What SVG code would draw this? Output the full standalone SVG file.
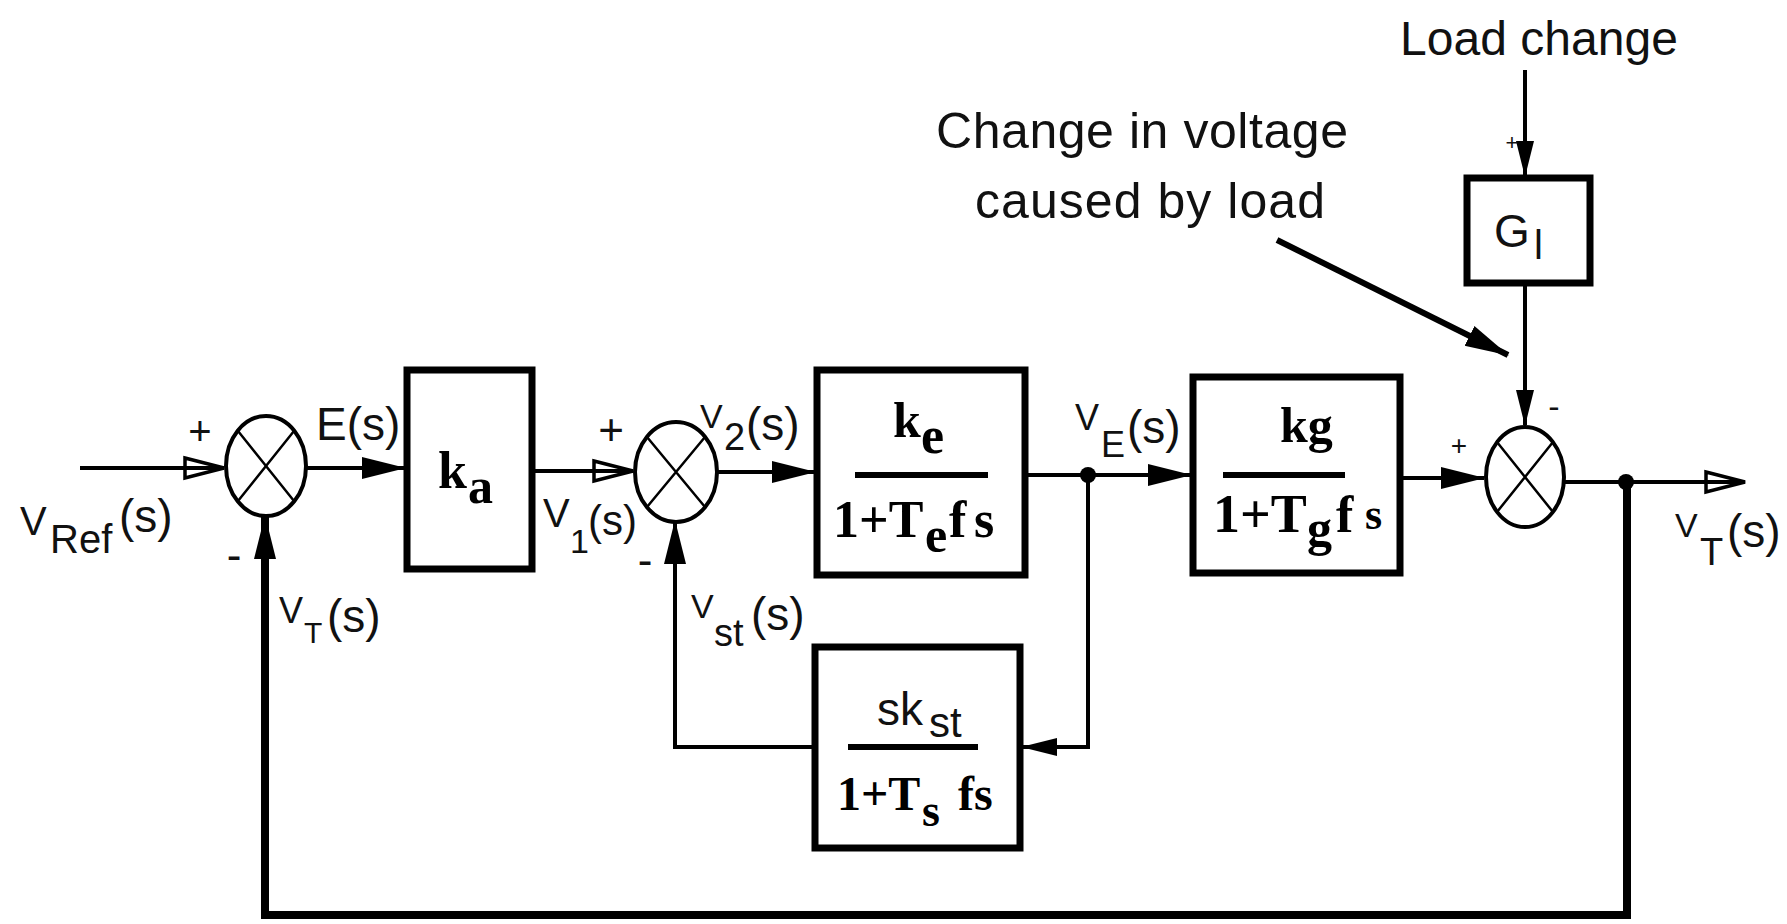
<svg xmlns="http://www.w3.org/2000/svg" width="1787" height="924" viewBox="0 0 1787 924">
<style>
.bg{fill:#fff}
.box{fill:#fff;stroke:#000;stroke-width:7}
.sum{fill:#fff;stroke:#000;stroke-width:4}
.cross{stroke:#000;stroke-width:2.5;fill:none}
.ln{stroke:#000;stroke-width:4;fill:none}
.thick{stroke:#000;stroke-width:8;fill:none}
.frac{stroke:#000;stroke-width:6;fill:none}
.lbl{font-family:"Liberation Sans",Arial,sans-serif;fill:#111}
.math{font-family:"Liberation Serif","Times New Roman",serif;font-weight:bold;fill:#000}
.sign{font-family:"Liberation Sans",Arial,sans-serif;fill:#111;text-anchor:middle}
</style>
<defs>
<marker id="fa" markerUnits="userSpaceOnUse" markerWidth="44" markerHeight="26" viewBox="0 0 44 26" refX="43" refY="13" orient="auto"><path d="M0 2 L44 13 L0 24 Z" fill="#000"/></marker>
<marker id="fs" markerUnits="userSpaceOnUse" markerWidth="36" markerHeight="22" viewBox="0 0 36 22" refX="35" refY="11" orient="auto"><path d="M0 2 L36 11 L0 20 Z" fill="#000"/></marker>
<marker id="oa" markerUnits="userSpaceOnUse" markerWidth="44" markerHeight="28" viewBox="0 0 44 28" refX="41" refY="14" orient="auto"><path d="M2 4 L41 14 L2 24 Z" fill="none" stroke="#000" stroke-width="3.5"/></marker>
</defs>
<rect class="bg" x="0" y="0" width="1787" height="924"/>

<g id="connectors">
  <path class="ln" d="M80 468 H224" marker-end="url(#oa)"/>
  <path class="ln" d="M306 468 H405" marker-end="url(#fa)"/>
  <path class="ln" d="M532 471 H633" marker-end="url(#oa)"/>
  <path class="ln" d="M717 472 H815" marker-end="url(#fa)"/>
  <path class="ln" d="M1025 475 H1191" marker-end="url(#fa)"/>
  <path class="ln" d="M1400 478 H1484" marker-end="url(#fa)"/>
  <path class="ln" d="M1564 482 H1745" marker-end="url(#oa)"/>
  <path class="ln" d="M1525 70 V176" marker-end="url(#fs)"/>
  <path class="ln" d="M1525 283 V425" marker-end="url(#fs)"/>
  <path class="thick" d="M1627 482 V915 H265 V516" marker-end="url(#fa)"/>
  <path class="ln" d="M1088 475 V747 H1022" marker-end="url(#fs)"/>
  <path class="ln" d="M815 747 H675 V521" marker-end="url(#fa)"/>
  <path class="thick" d="M1277 240 L1508 355" style="stroke-width:6" marker-end="url(#fa)"/>
  <circle cx="1088" cy="475" r="8" fill="#000"/>
  <circle cx="1626" cy="482" r="8" fill="#000"/>
</g>

<g id="sum1">
  <ellipse class="sum" cx="266" cy="466" rx="40" ry="50"/>
  <path class="cross" d="M238 431 L294 501 M294 431 L238 501"/>
  <text class="sign" x="200" y="445" font-size="40">+</text>
  <text class="sign" x="234" y="570" font-size="44">-</text>
</g>

<g id="sum2">
  <ellipse class="sum" cx="676" cy="472" rx="41" ry="50"/>
  <path class="cross" d="M647 437 L705 507 M705 437 L647 507"/>
  <text class="sign" x="611" y="445" font-size="44">+</text>
  <text class="sign" x="645" y="575" font-size="44">-</text>
</g>

<g id="sum3">
  <ellipse class="sum" cx="1525" cy="477" rx="39" ry="50"/>
  <path class="cross" d="M1497 442 L1553 512 M1553 442 L1497 512"/>
  <text class="sign" x="1459" y="455" font-size="28">+</text>
  <text class="sign" x="1554" y="418" font-size="34">-</text>
  <text class="sign" x="1512" y="150" font-size="22" fill="#666">+</text>
</g>

<g id="block-ka">
  <rect class="box" x="407" y="370" width="125" height="199"/>
  <text class="math" x="438" y="488" font-size="52">k</text>
  <text class="math" x="468" y="503" font-size="50">a</text>
</g>

<g id="block-ke">
  <rect class="box" x="817" y="370" width="208" height="205"/>
  <text class="math" x="893" y="437" font-size="50">k</text>
  <text class="math" x="921" y="453" font-size="52">e</text>
  <line class="frac" x1="855" y1="475" x2="988" y2="475"/>
  <text class="math" x="833" y="537" font-size="52">1+T</text>
  <text class="math" x="925" y="552" font-size="50">e</text>
  <text class="math" x="949" y="537" font-size="52">f</text>
  <text class="math" x="974" y="537" font-size="52">s</text>
</g>

<g id="block-kg">
  <rect class="box" x="1193" y="377" width="207" height="196"/>
  <text class="math" x="1280" y="442" font-size="50">kg</text>
  <line class="frac" x1="1223" y1="475" x2="1345" y2="475"/>
  <text class="math" x="1213" y="532" font-size="54">1+T</text>
  <text class="math" x="1307" y="545" font-size="50">g</text>
  <text class="math" x="1336" y="532" font-size="52">f</text>
  <text class="math" x="1365" y="529" font-size="44" font-weight="normal">s</text>
</g>

<g id="block-kst">
  <rect class="box" x="815" y="647" width="205" height="201"/>
  <text class="lbl" x="877" y="725" font-size="46">sk</text>
  <text class="lbl" x="929" y="737" font-size="42">st</text>
  <line class="frac" x1="848" y1="747" x2="978" y2="747"/>
  <text class="math" x="837" y="810" font-size="48">1+T</text>
  <text class="math" x="922" y="826" font-size="46">s</text>
  <text class="math" x="958" y="810" font-size="48">fs</text>
</g>

<g id="block-gl">
  <rect class="box" x="1467" y="178" width="123" height="105"/>
  <text class="lbl" x="1494" y="247" font-size="46">G</text>
  <text class="lbl" x="1534" y="259" font-size="40">l</text>
</g>

<g id="labels">
  <text class="lbl" x="20" y="535" font-size="40">V</text>
  <text class="lbl" x="50" y="553" font-size="40">Ref</text>
  <text class="lbl" x="119" y="532" font-size="46">(s)</text>

  <text class="lbl" x="316" y="440" font-size="46">E(s)</text>

  <text class="lbl" x="279" y="623" font-size="36">V</text>
  <text class="lbl" x="304" y="643" font-size="30">T</text>
  <text class="lbl" x="327" y="632" font-size="46">(s)</text>

  <text class="lbl" x="543" y="527" font-size="40">V</text>
  <text class="lbl" x="570" y="553" font-size="34">1</text>
  <text class="lbl" x="588" y="535" font-size="42">(s)</text>

  <text class="lbl" x="700" y="428" font-size="34">V</text>
  <text class="lbl" x="724" y="450" font-size="38">2</text>
  <text class="lbl" x="746" y="440" font-size="46">(s)</text>

  <text class="lbl" x="1075" y="430" font-size="36">V</text>
  <text class="lbl" x="1101" y="457" font-size="36">E</text>
  <text class="lbl" x="1127" y="443" font-size="46">(s)</text>

  <text class="lbl" x="691" y="618" font-size="34">V</text>
  <text class="lbl" x="714" y="646" font-size="38">st</text>
  <text class="lbl" x="751" y="630" font-size="46">(s)</text>

  <text class="lbl" x="1675" y="537" font-size="34">V</text>
  <text class="lbl" x="1700" y="565" font-size="38">T</text>
  <text class="lbl" x="1727" y="547" font-size="46">(s)</text>

  <text class="lbl" x="1400" y="55" font-size="48" textLength="278">Load change</text>
  <text class="lbl" x="936" y="148" font-size="50" textLength="412">Change in voltage</text>
  <text class="lbl" x="975" y="218" font-size="50" textLength="350">caused by load</text>
</g>
</svg>
